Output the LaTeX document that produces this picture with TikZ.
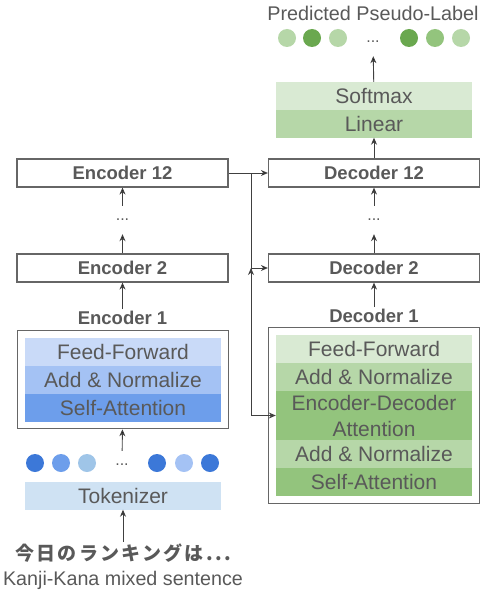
\documentclass[tikz,border=0pt]{standalone}
\usepackage{fontspec}
\setmainfont{Liberation Sans}
\newfontfamily\jpfont{Noto Sans CJK JP}[LetterSpace=12]
\usetikzlibrary{positioning,fit,arrows.meta}

\definecolor{txtgray}{HTML}{595959}
\definecolor{boxgray}{HTML}{666666}
\definecolor{arrowgray}{HTML}{404040}
\definecolor{blueT}{HTML}{CFE2F3}
\definecolor{blueL}{HTML}{C9DAF8}
\definecolor{blueA}{HTML}{A4C2F4}
\definecolor{blueM}{HTML}{6D9EEB}
\definecolor{blueS}{HTML}{9FC5E8}
\definecolor{blueD}{HTML}{3C78D8}
\definecolor{greenL}{HTML}{D9EAD3}
\definecolor{greenA}{HTML}{B6D7A8}
\definecolor{greenM}{HTML}{93C47D}
\definecolor{greenD}{HTML}{6AA84F}

\tikzset{
  layer/.style={minimum width=196pt,minimum height=28pt,inner sep=0pt,
    text=txtgray,font=\fontsize{21}{26}\selectfont},
  block/.style={draw=boxgray,line width=1.2pt,minimum width=211pt,minimum height=28pt,
    inner sep=0pt,text=txtgray,font=\bfseries\fontsize{18.5}{22}\selectfont},
  stack/.style={draw=boxgray,line width=1.2pt,inner sep=7pt},
  token/.style={circle,minimum size=18pt,inner sep=0pt},
  caption/.style={inner sep=2pt,text=txtgray},
  gap/.style={minimum height=28pt,inner sep=0pt,text=txtgray,font=\fontsize{16}{18}\selectfont},
  flow/.style={->,draw=arrowgray,line width=0.9pt},
}

\begin{document}
\begin{tikzpicture}[x=1pt,y=-1pt,on grid,node distance=28pt,
    >={Stealth[length=7pt,width=6pt]}]
   \useasboundingbox (0,0) rectangle (482,591);
   % encoder side
   \node[block] (enc12) at (122.5,173) {Encoder 12};
   \node[gap] (encdots) [below=47pt of enc12] {...};
   \node[block] (enc2) [below=48pt of encdots] {Encoder 2};
   \node[caption,font=\bfseries\fontsize{18.5}{22}\selectfont] (enc1lbl) [below=50pt of enc2] {Encoder 1};
   \node[layer] (eff) [fill=blueL] at (123,351.5) {Feed-Forward};
   \node[layer] (ean) [fill=blueA,below=of eff] {Add \& Normalize};
   \node[layer] (esa) [fill=blueM,below=of ean] {Self-Attention};
   \node[stack] (enc1) [fit=(eff)(esa)] {};
   \foreach \x/\c [count=\i] in {35/blueD,61/blueM,87/blueS,157/blueD,184/blueA,210/blueD}
     \node[token,fill=\c] (b\i) at (\x,463) {};
   \node[gap] (bdots) at (122,465) {...};
   \node[layer] (tok) [fill=blueT] at (123,495.5) {Tokenizer};
   \node[caption] (jp) at (123,553) {\jpfont\bfseries\fontsize{19}{22}\selectfont 今日のランキングは...};
   \node[caption] (src) at (123,580) {\fontsize{19.7}{22}\selectfont Kanji-Kana mixed sentence};
   % decoder side
   \node[block] (dec12) at (374,173) {Decoder 12};
   \node[gap] (decdots) [below=47pt of dec12] {...};
   \node[block] (dec2) [below=48pt of decdots] {Decoder 2};
   \node[caption,font=\bfseries\fontsize{18.5}{22}\selectfont] (dec1lbl) [below=48pt of dec2] {Decoder 1};
   \node[layer] (dff) [fill=greenL] at (374,349) {Feed-Forward};
   \node[layer] (dan) [fill=greenA,below=of dff] {Add \& Normalize};
   \node[layer] (deda) [fill=greenM,below=38.5pt of dan,minimum height=49pt,align=center]
     {Encoder-Decoder\\Attention};
   \node[layer] (dan2) [fill=greenA,below=38.5pt of deda] {Add \& Normalize};
   \node[layer] (dsa) [fill=greenM,below=of dan2] {Self-Attention};
   \node[stack] (dec1) [fit=(dff)(dsa)] {};
   \node[layer] (lin) [fill=greenA,above=49.5pt of dec12] {Linear};
   \node[layer] (soft) [fill=greenL,above=27.5pt of lin] {Softmax};
   \foreach \x/\c [count=\i] in {287/greenA,312/greenD,338/greenA,409/greenD,435/greenM,461/greenA}
     \node[token,fill=\c] (g\i) at (\x,38) {};
   \node[gap] (gdots) at (373,42) {...};
   \node[caption] (title) at (373,13) {\fontsize{19.8}{22}\selectfont Predicted Pseudo-Label};
   \coordinate (split) at (251,173);
   \path[flow]
        (jp) edge (tok)
        (bdots) edge (enc1)
        (enc1lbl) edge (enc2)
        (enc2) edge (encdots)
        (encdots) edge (enc12)
        (dec1lbl) edge (dec2)
        (dec2) edge (decdots)
        (decdots) edge (dec12)
        (dec12) edge (lin)
        (soft) edge (gdots)
        (enc12) edge (dec12)
        (split |- dec2) edge (dec2)
        ;
   \draw[flow] (split) |- (deda.west);
\end{tikzpicture}
\end{document}
